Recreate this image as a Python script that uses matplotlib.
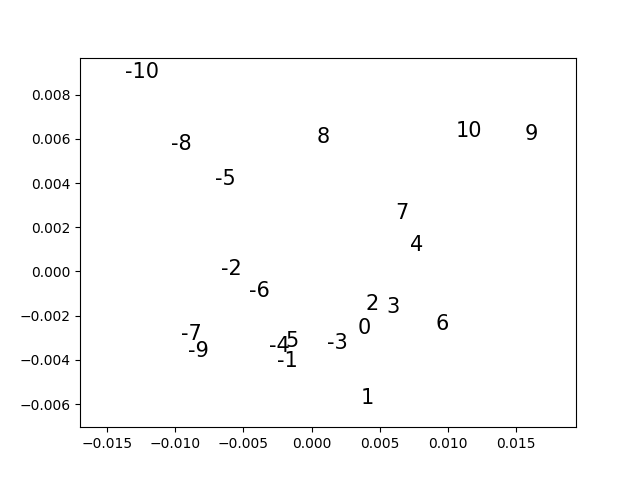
import matplotlib
matplotlib.use("Agg")
import matplotlib.pyplot as plt

# labels and their 2-D coordinates
labels = [-10, -9, -8, -7, -6, -5, -4, -3, -2, -1, 0,
          1, 2, 3, 4, 5, 6, 7, 8, 9, 10]
xs = [-0.01366, -0.00903, -0.01028, -0.00961, -0.00461, -0.00711, -0.00314,
      0.00117, -0.00663, -0.00251, 0.00342,
      0.00362, 0.00399, 0.00546, 0.00722, -0.00192, 0.00911, 0.00617,
      0.00036, 0.01561, 0.01058]
ys = [0.00877, -0.00386, 0.00547, -0.00312, -0.00114, 0.00390, -0.00365,
      -0.00351, -0.00016, -0.00431, -0.00281,
      -0.00597, -0.00172, -0.00186, 0.00092, -0.00340, -0.00265, 0.00236,
      0.00583, 0.00595, 0.00606]

fig, ax = plt.subplots(figsize=(6.4, 4.8), dpi=100)
for lab, x, y in zip(labels, xs, ys):
    ax.text(x, y, str(lab), fontsize=15)

ax.set_xlim(-0.01699, 0.01941)
ax.set_ylim(-0.00704, 0.00967)

fig.savefig("out.png")
